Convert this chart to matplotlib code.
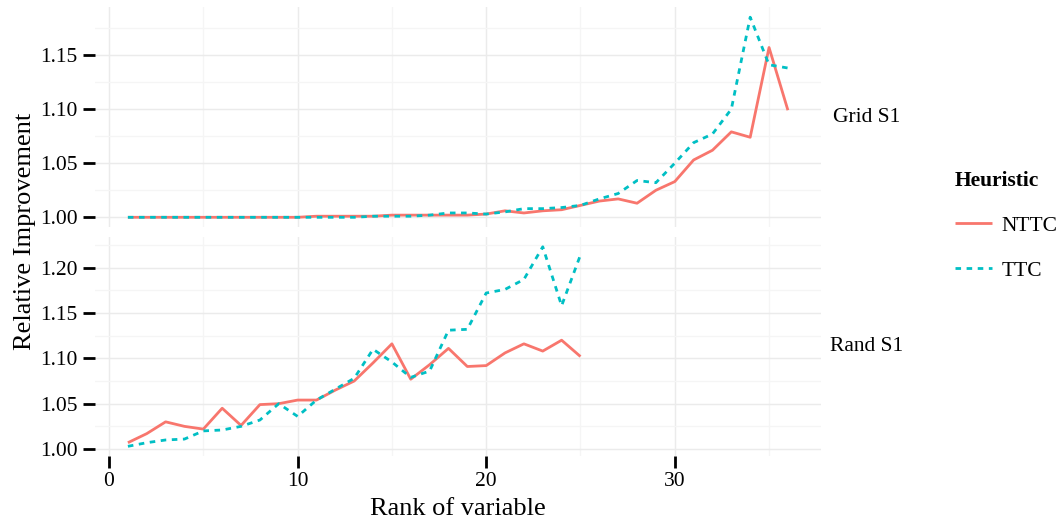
import matplotlib
matplotlib.use("Agg")
import matplotlib.pyplot as plt
from matplotlib.ticker import MultipleLocator
from matplotlib.font_manager import FontProperties

plt.rcParams['font.family'] = ['Liberation Serif', 'DejaVu Serif']

# ---- data ----
grid_rank = list(range(1, 37))
grid_nttc = [1.000, 1.000, 1.000, 1.000, 1.000, 1.000, 1.000, 1.000, 1.000, 1.000,
             1.001, 1.001, 1.001, 1.001, 1.002, 1.002, 1.002, 1.002, 1.002, 1.003,
             1.006, 1.004, 1.006, 1.007, 1.011, 1.015, 1.017, 1.013, 1.025, 1.033,
             1.053, 1.062, 1.079, 1.074, 1.157, 1.099]
grid_ttc = [1.000, 1.000, 1.000, 1.000, 1.000, 1.000, 1.000, 1.000, 1.000, 1.000,
            1.000, 1.000, 1.000, 1.001, 1.001, 1.001, 1.002, 1.004, 1.004, 1.003,
            1.005, 1.008, 1.008, 1.009, 1.011, 1.017, 1.022, 1.034, 1.032, 1.050,
            1.069, 1.077, 1.100, 1.185, 1.141, 1.138]

rand_rank = list(range(1, 26))
rand_nttc = [1.007, 1.017, 1.030, 1.025, 1.022, 1.045, 1.026, 1.049, 1.050, 1.054,
             1.054, 1.065, 1.075, 1.095, 1.116, 1.077, 1.093, 1.111, 1.091, 1.092,
             1.106, 1.116, 1.108, 1.120, 1.102]
rand_ttc = [1.003, 1.007, 1.010, 1.011, 1.020, 1.021, 1.025, 1.032, 1.050, 1.036,
            1.054, 1.066, 1.078, 1.110, 1.096, 1.079, 1.086, 1.131, 1.132, 1.172,
            1.176, 1.187, 1.223, 1.158, 1.214]

facet_labels = ["Grid S1", "Rand S1"]
series_labels = ["NTTC", "TTC"]
colors = ["#F8766D", "#00BFC4"]

W, H = 1061, 520
fig = plt.figure(figsize=(W / 100, H / 100), dpi=100)
fig.patch.set_facecolor("white")

left = 94.9 / W
width = 726 / W
ax_top = fig.add_axes([left, 1 - 227.3 / H, width, 220.1 / H])
ax_bot = fig.add_axes([left, 1 - 456.3 / H, width, 219.5 / H], sharex=ax_top)

TICK_FS = 15.5
TITLE_FS = 19
LW = 2.0
dash = (0, (2.0, 2.0))

panels = [
    (ax_top, grid_rank, grid_nttc, grid_ttc, facet_labels[0]),
    (ax_bot, rand_rank, rand_nttc, rand_ttc, facet_labels[1]),
]

for ax, xs, y1, y2, lab in panels:
    ax.plot(xs, y1, color=colors[0], lw=LW, solid_capstyle="butt",
            label=series_labels[0], zorder=3)
    ax.plot(xs, y2, color=colors[1], lw=LW, linestyle=dash,
            dash_capstyle="butt", label=series_labels[1], zorder=4)
    ax.margins(x=0.05, y=0.05)
    ax.xaxis.set_major_locator(MultipleLocator(10))
    ax.xaxis.set_minor_locator(MultipleLocator(5))
    ax.yaxis.set_major_locator(MultipleLocator(0.05))
    ax.yaxis.set_minor_locator(MultipleLocator(0.025))
    ax.yaxis.set_major_formatter(plt.FormatStrFormatter("%.2f"))
    ax.grid(which="major", color="#EBEBEB", lw=1.07)
    ax.grid(which="minor", color="#F5F5F5", lw=1.0)
    ax.set_axisbelow(True)
    for s in ax.spines.values():
        s.set_visible(False)
    ax.tick_params(axis="y", which="major", direction="out", length=8.5,
                   width=2.0, color="black", pad=4.0, labelsize=TICK_FS,
                   labelcolor="black")
    ax.tick_params(axis="both", which="minor", length=0)
    ax.text(1.063, 0.5, lab, transform=ax.transAxes, ha="center",
            va="center", fontsize=TICK_FS, color="black")

ax_top.tick_params(axis="x", which="major", length=0, labelbottom=False)
ax_bot.tick_params(axis="x", which="major", direction="out", length=8.5,
                   width=2.0, color="black", pad=2.5, labelsize=TICK_FS,
                   labelcolor="black")

fig.text(457.9 / W, 1 - 515 / H, "Rank of variable", ha="center",
         va="baseline", fontsize=TITLE_FS)
fig.text(25 / W, 1 - 231 / H, "Relative Improvement", ha="center",
         va="center", rotation=90, fontsize=TITLE_FS)

handles, labels = ax_top.get_legend_handles_labels()
leg = fig.legend(handles, labels, title="Heuristic", loc="upper left",
                 bbox_to_anchor=(954.5 / W, 1 - 170.5 / H), frameon=False,
                 prop={"size": TICK_FS},
                 title_fontproperties=FontProperties(family="Liberation Serif",
                                                     weight="bold", size=TICK_FS),
                 alignment="left", handlelength=1.72, handletextpad=0.47,
                 labelspacing=1.17, borderpad=0, borderaxespad=0)

fig.savefig("out.png", dpi=100, facecolor="white")
